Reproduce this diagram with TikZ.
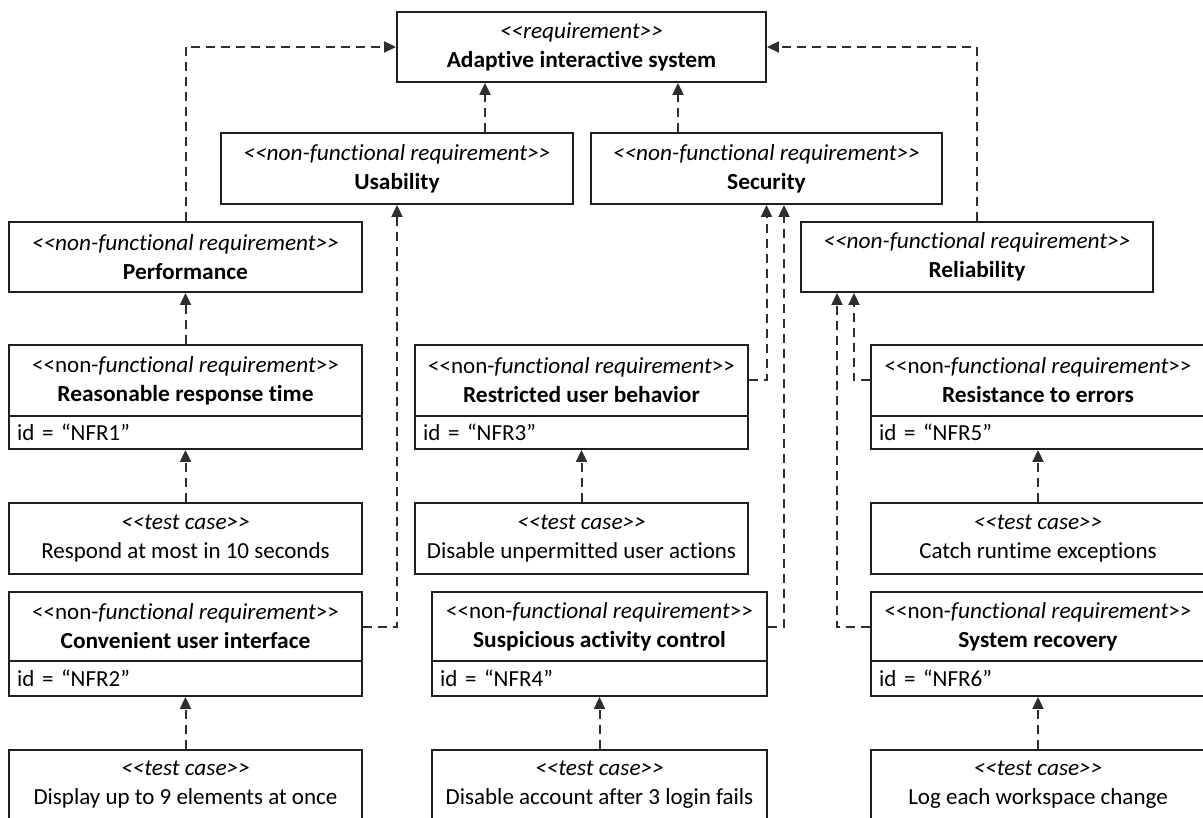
\documentclass[tikz,border=0pt]{standalone}
\usepackage{fontspec}
\setmainfont{Carlito}[Ligatures=NoCommon,
  BoldFeatures={FakeStretch=1.02}, ItalicFeatures={FakeStretch=1.015}]
\usetikzlibrary{arrows.meta}

% guillemet-free stereotype brackets
\newcommand\stopen{<\kern0pt<}
\newcommand\stclose{>\kern0pt>}
\newcommand\nfrst{\textit{\stopen non-functional requirement\stclose}}
\newcommand\nfrmix{\stopen non-\textit{functional requirement}\stclose}
\newcommand\tcst{\textit{\stopen test case\stclose}}

\tikzset{
  uml/.style={draw=black!88, line width=1.9pt, rectangle, inner sep=0pt,
    align=center, font=\fontsize{23pt}{29pt}\selectfont},
  idbox/.style={uml, align=left, inner xsep=8pt},
  dep/.style={draw=black!82, line width=2pt, dash pattern=on 9pt off 6pt,
    -{Triangle[length=12pt,width=11pt]}},
}

\begin{document}
\begin{tikzpicture}[x=1pt,y=-1pt]
\useasboundingbox (0,0) rectangle (1203,818);
\clip (0,0) rectangle (1203,818);

% top-level requirement
\node[uml, minimum width=369pt, minimum height=70pt] (top) at (581.5,47)
  {\textit{\stopen requirement\stclose}\\\textbf{Adaptive interactive system}};

% quality categories
\node[uml, minimum width=352pt, minimum height=71pt] (usab) at (397,168.5)
  {\nfrst\\\textbf{Usability}};
\node[uml, minimum width=351pt, minimum height=71pt] (sec) at (766.5,168.5)
  {\nfrst\\\textbf{Security}};
\node[uml, minimum width=353pt, minimum height=70pt] (perf) at (185.5,257)
  {\nfrst\\\textbf{Performance}};
\node[uml, minimum width=352pt, minimum height=70pt] (rel) at (977,257)
  {\nfrst\\\textbf{Reliability}};

% left column
\node[uml, minimum width=353pt, minimum height=71pt] (nfr1) at (185.5,380.5)
  {\nfrmix\\\textbf{Reasonable response time}};
\node[idbox, text width=337pt, minimum height=33pt] (nfr1id) at (185.5,432.5)
  {id = “NFR1”};
\node[uml, minimum width=353pt, minimum height=71pt] (tc1) at (185.5,538.5)
  {\tcst\\Respond at most in 10 seconds};
\node[uml, minimum width=353pt, minimum height=69pt] (nfr2) at (185.5,626.5)
  {\nfrmix\\\textbf{Convenient user interface}};
\node[idbox, text width=337pt, minimum height=35pt] (nfr2id) at (185.5,678.5)
  {id = “NFR2”};
\node[uml, minimum width=353pt, minimum height=70pt] (tc2) at (185.5,785)
  {\tcst\\Display up to 9 elements at once};

% middle column
\node[uml, minimum width=333pt, minimum height=71pt] (nfr3) at (581.5,380.5)
  {\nfrmix\\\textbf{Restricted user behavior}};
\node[idbox, text width=317pt, minimum height=33pt] (nfr3id) at (581.5,432.5)
  {id = “NFR3”};
\node[uml, minimum width=333pt, minimum height=71pt] (tc3) at (581.5,538.5)
  {\tcst\\Disable unpermitted user actions};
\node[uml, minimum width=335pt, minimum height=69pt] (nfr4) at (599.5,626.5)
  {\nfrmix\\\textbf{Suspicious activity control}};
\node[idbox, text width=319pt, minimum height=35pt] (nfr4id) at (599.5,678.5)
  {id = “NFR4”};
\node[uml, minimum width=335pt, minimum height=70pt] (tc4) at (599.5,785)
  {\tcst\\Disable account after 3 login fails};

% right column
\node[uml, minimum width=334pt, minimum height=71pt] (nfr5) at (1038,380.5)
  {\nfrmix\\\textbf{Resistance to errors}};
\node[idbox, text width=318pt, minimum height=33pt] (nfr5id) at (1038,432.5)
  {id = “NFR5”};
\node[uml, minimum width=334pt, minimum height=71pt] (tc5) at (1038,538.5)
  {\tcst\\Catch runtime exceptions};
\node[uml, minimum width=334pt, minimum height=69pt] (nfr6) at (1038,626.5)
  {\nfrmix\\\textbf{System recovery}};
\node[idbox, text width=318pt, minimum height=35pt] (nfr6id) at (1038,678.5)
  {id = “NFR6”};
\node[uml, minimum width=334pt, minimum height=70pt] (tc6) at (1038,785)
  {\tcst\\Log each workspace change};

% dependencies
\draw[dep] (perf.north) |- (top.west);
\draw[dep] (rel.north) |- (top.east);
\draw[dep] ([xshift=88pt]usab.north) -- ([xshift=88pt]usab.north |- top.south);
\draw[dep] ([xshift=-88.5pt]sec.north) -- ([xshift=-88.5pt]sec.north |- top.south);

\draw[dep] (nfr1.north) -- (perf.south);
\draw[dep] (tc1.north) -- (nfr1id.south);
\draw[dep] (nfr2.east) -| (usab.south);
\draw[dep] (tc2.north) -- (nfr2id.south);

\draw[dep] (nfr3.east) -| (sec.south);
\draw[dep] (tc3.north) -- (nfr3id.south);
\draw[dep] (nfr4.east) -| ([xshift=17.5pt]sec.south);
\draw[dep] (tc4.north) -- (nfr4id.south);

\draw[dep] (nfr5.west) -| ([xshift=-123pt]rel.south);
\draw[dep] (tc5.north) -- (nfr5id.south);
\draw[dep] (nfr6.west) -| ([xshift=-140pt]rel.south);
\draw[dep] (tc6.north) -- (nfr6id.south);
\end{tikzpicture}
\end{document}
